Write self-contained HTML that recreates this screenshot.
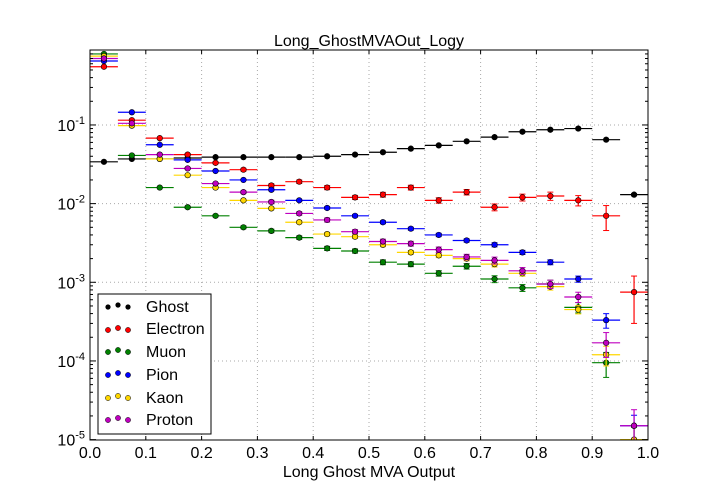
<!DOCTYPE html>
<html><head><meta charset="utf-8"><style>
body{margin:0;background:#fff;}
svg{display:block;font-family:"Liberation Sans","DejaVu Sans",sans-serif;}
</style></head><body>
<svg id="chart" width="720" height="504"></svg>
<script>
const binCenters=[0.025,0.075,0.125,0.175,0.225,0.275,0.325,0.375,0.425,0.475,0.525,0.575,0.625,0.675,0.725,0.775,0.825,0.875,0.925,0.975];
const ghost=[0.034,0.037,0.037,0.038,0.039,0.039,0.039,0.039,0.040,0.042,0.045,0.050,0.055,0.062,0.070,0.082,0.087,0.090,0.065,0.013];
const electron=[0.55,0.115,0.068,0.042,0.033,0.027,0.017,0.019,0.016,0.012,0.013,0.016,0.011,0.014,0.009,0.012,0.0125,0.011,0.007,0.00075];
const muon=[0.80,0.041,0.016,0.009,0.007,0.005,0.0045,0.0037,0.0027,0.0025,0.0018,0.0017,0.0013,0.0016,0.0011,0.00085,0.00095,0.00048,0.000095,0.000009];
const pion=[0.65,0.145,0.056,0.036,0.026,0.020,0.015,0.011,0.0088,0.0070,0.0058,0.0048,0.0040,0.0034,0.0030,0.0024,0.0018,0.0011,0.00033,0.000015];
const kaon=[0.75,0.098,0.037,0.023,0.016,0.011,0.0087,0.0058,0.0041,0.0038,0.0030,0.0024,0.0022,0.0020,0.0017,0.0013,0.00088,0.00045,0.00012,0.00001];
const proton=[0.70,0.105,0.042,0.028,0.018,0.014,0.0105,0.0075,0.0062,0.0044,0.0033,0.0031,0.0026,0.0021,0.0019,0.0014,0.00095,0.00065,0.00017,0.000015];
const relErr=[0.005,0.01,0.02,0.03,0.03,0.04,0.05,0.05,0.06,0.06,0.07,0.07,0.08,0.08,0.1,0.1,0.12,0.15,0.35,0.6];
const errScale=[0.05,1,1,0.6,0.8,1];
const xTicks=[0.0,0.1,0.2,0.3,0.4,0.5,0.6,0.7,0.8,0.9,1.0];
const yTickExps=[-1,-2,-3,-4,-5];
const seriesNames=["Ghost","Electron","Muon","Pion","Kaon","Proton"];
const seriesColors=["#000000","#ff0000","#008000","#0000ff","#ffd700","#bf00bf"];
const seriesData=[ghost,electron,muon,pion,kaon,proton];

const L=90,R=648,T=50,B=440;
const yTopLog=-0.047,yBotLog=-5.005;
const NS="http://www.w3.org/2000/svg";
const svg=document.getElementById('chart');
function X(v){return L+(R-L)*v;}
function Y(v){const l=Math.log10(v);return T+(yTopLog-l)/(yTopLog-yBotLog)*(B-T);}
function el(tag,attrs,parent){const e=document.createElementNS(NS,tag);for(const k in attrs)e.setAttribute(k,attrs[k]);(parent||svg).appendChild(e);return e;}

const defs=el('clipPath',{id:'clip'});el('rect',{x:L,y:T,width:R-L,height:B-T},defs);

const grid=el('g',{});


xTicks.forEach(t=>{if(t>0&&t<1)el('line',{x1:X(t),x2:X(t),y1:T,y2:B,stroke:'#aaa','stroke-dasharray':'1,3'},grid);});
yTickExps.forEach(e=>{const y=Y(Math.pow(10,e));if(y>T&&y<B-1)el('line',{x1:L,x2:R,y1:y,y2:y,stroke:'#aaa','stroke-dasharray':'1,3'},grid);});

seriesData.forEach((data,si)=>{
  const g=el('g',{'clip-path':'url(#clip)'});
  
  
  const c=seriesColors[si];
  data.forEach((v,i)=>{
    const cx=X(binCenters[i]),cy=Y(v);
    el('line',{x1:X(binCenters[i]-0.025),x2:X(binCenters[i]+0.025),y1:cy,y2:cy,stroke:c,'stroke-width':1.2},g);
    const e=v*relErr[i]*errScale[si];
    const y1=Y(v+e),y2=Y(Math.max(v-e,1e-7));
    if(y2-y1>2){
      el('line',{x1:cx,x2:cx,y1:y1,y2:y2,stroke:c,'stroke-width':1.2},g);
      el('line',{x1:cx-3,x2:cx+3,y1:y1,y2:y1,stroke:c},g);
      el('line',{x1:cx-3,x2:cx+3,y1:y2,y2:y2,stroke:c},g);
    }
    const d=el('circle',{cx:cx,cy:cy,r:2.8,fill:c,stroke:'#000','stroke-width':0.6},g);
    
    
  });
});

const frame=el('rect',{x:L,y:T,width:R-L,height:B-T,fill:'none',stroke:'#000','stroke-width':1});



xTicks.forEach(t=>{
  const x=X(t);
  el('line',{x1:x,x2:x,y1:B,y2:B-4,stroke:'#000'});
  el('line',{x1:x,x2:x,y1:T,y2:T+4,stroke:'#000'});
  const tx=el('text',{x:x,y:B+18,'text-anchor':'middle','font-size':16});
  tx.textContent=t.toFixed(1);
  
  
});
yTickExps.forEach(e=>{
  const y=Y(Math.pow(10,e));
  el('line',{x1:L,x2:L+6,y1:y,y2:y,stroke:'#000'});
  el('line',{x1:R,x2:R-6,y1:y,y2:y,stroke:'#000'});
  const tx=el('text',{x:L-5,y:y+6,'text-anchor':'end','font-size':16});
  tx.innerHTML='10<tspan dy="-7" font-size="11">'+e+'</tspan>';
  
  
  for(let m=2;m<=9;m++){
    const ym=Y(m*Math.pow(10,e));
    if(ym>T&&ym<B){el('line',{x1:L,x2:L+3,y1:ym,y2:ym,stroke:'#000'});el('line',{x1:R,x2:R-3,y1:ym,y2:ym,stroke:'#000'});}
  }
});
</script>
<svg style="position:absolute;left:0;top:0" width="720" height="504">
<text x="369" y="46" text-anchor="middle" font-size="16">Long_GhostMVAOut_Logy</text>
<text x="369" y="477" text-anchor="middle" font-size="16">Long Ghost MVA Output</text>
<g>
<rect x="98" y="294" width="113" height="140" fill="#fff" stroke="#000"/>
<g><circle cx="108" cy="307" r="2.6" fill="#000"/><circle cx="118" cy="305" r="2.6" fill="#000"/><circle cx="128" cy="307" r="2.6" fill="#000"/><text x="146" y="312" font-size="16">Ghost</text></g>
<g><circle cx="108" cy="330" r="2.6" fill="#f00" stroke="#000" stroke-width=".5"/><circle cx="118" cy="328" r="2.6" fill="#f00" stroke="#000" stroke-width=".5"/><circle cx="128" cy="330" r="2.6" fill="#f00" stroke="#000" stroke-width=".5"/><text x="146" y="334" font-size="16">Electron</text></g>
<g><circle cx="108" cy="352" r="2.6" fill="#008000" stroke="#000" stroke-width=".5"/><circle cx="118" cy="350" r="2.6" fill="#008000" stroke="#000" stroke-width=".5"/><circle cx="128" cy="352" r="2.6" fill="#008000" stroke="#000" stroke-width=".5"/><text x="146" y="357" font-size="16">Muon</text></g>
<g><circle cx="108" cy="375" r="2.6" fill="#00f" stroke="#000" stroke-width=".5"/><circle cx="118" cy="373" r="2.6" fill="#00f" stroke="#000" stroke-width=".5"/><circle cx="128" cy="375" r="2.6" fill="#00f" stroke="#000" stroke-width=".5"/><text x="146" y="380" font-size="16">Pion</text></g>
<g><circle cx="108" cy="398" r="2.6" fill="#ffd700" stroke="#000" stroke-width=".5"/><circle cx="118" cy="396" r="2.6" fill="#ffd700" stroke="#000" stroke-width=".5"/><circle cx="128" cy="398" r="2.6" fill="#ffd700" stroke="#000" stroke-width=".5"/><text x="146" y="403" font-size="16">Kaon</text></g>
<g><circle cx="108" cy="420" r="2.6" fill="#bf00bf" stroke="#000" stroke-width=".5"/><circle cx="118" cy="418" r="2.6" fill="#bf00bf" stroke="#000" stroke-width=".5"/><circle cx="128" cy="420" r="2.6" fill="#bf00bf" stroke="#000" stroke-width=".5"/><text x="146" y="425" font-size="16">Proton</text></g>
</g>
</svg>
</body></html>
